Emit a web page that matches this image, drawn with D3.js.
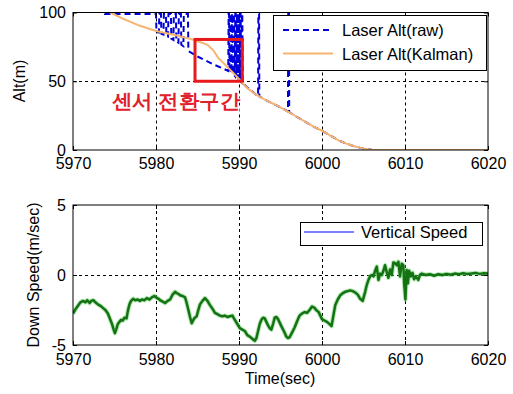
<!DOCTYPE html>
<html><head><meta charset="utf-8">
<script src="https://cdn.jsdelivr.net/npm/d3@7"></script>
<style>
html,body{margin:0;padding:0;background:#fff;}
svg{display:block;}
text{font-family:"Liberation Sans",Arial,sans-serif;}
</style></head>
<body>
<svg id="c" width="513" height="394"></svg>
<script>
// ---------- data ----------
const xTicks = [5970, 5980, 5990, 6000, 6010, 6020];
const altTicks = [0, 50, 100];
const spdTicks = [-5, 0, 5];

// Laser altitude, raw (saturated readings sit at 99, invisible ones at 120)
const rawT = [5970, 5973.8, 5973.85, 5980.0,
  5980.05, 5980.35, 5980.4, 5980.6, 5980.65, 5980.9, 5980.95, 5981.2, 5981.25, 5981.45,
  5981.5, 5981.8, 5981.85, 5982.1, 5982.15, 5982.4, 5982.45, 5982.7, 5982.75, 5983.0,
  5983.05, 5983.3, 5983.35, 5983.85, 5983.9, 5985, 5986, 5987, 5988, 5988.7,
  5988.75, 5988.8, 5988.85, 5988.9, 5988.95, 5989.0, 5989.05, 5989.1, 5989.15, 5989.2,
  5989.25, 5989.3, 5989.35, 5989.4, 5989.45, 5989.5, 5989.55, 5989.6, 5989.65, 5989.7,
  5989.75, 5989.8, 5989.85, 5989.9, 5989.95, 5990.0, 5990.05, 5990.1, 5990.15, 5990.2,
  5990.25, 5990.3, 5990.35, 5990.4, 5990.45, 5991, 5992, 5992.3, 5992.33, 5992.42, 5992.45,
  5993, 5994, 5995, 5995.9, 5995.93, 5996.02, 5996.05, 5997, 5998, 5999, 6000, 6001,
  6002, 6003, 6004, 6005, 6006, 6006.5, 6020];
const rawV = [120, 120, 99, 99,
  86, 85.5, 99, 99, 84.5, 84, 99, 99, 83, 82.5,
  99, 99, 81, 80, 99, 99, 79, 78, 99, 99,
  76.5, 75.5, 99, 99, 72, 68, 65, 62, 59.5, 57.5,
  99, 99, 57, 57, 99, 99, 56, 56, 99, 99,
  55.5, 55, 99, 99, 54.5, 54, 99, 99, 53.5, 53,
  99, 99, 52.5, 52, 99, 99, 51.5, 51, 99, 99,
  50, 49.5, 99, 99, 48.5, 45.5, 40.5, 39.5, 99, 99, 39,
  37, 34, 31, 28, 99, 99, 27.5, 24, 20.5, 17, 14, 10.5,
  7, 4.5, 2.5, 1, 0.2, 0, 0];

// Laser altitude, Kalman filtered
const kalT = [5970, 5972, 5974.5, 5976, 5978, 5980, 5982, 5984, 5985.3, 5986.2, 5986.9,
  5987.5, 5988.5, 5989.8, 5990.5, 5991.3, 5992, 5993, 5994, 5995, 5996, 5997, 5998,
  5999, 6000, 6001, 6002, 6003, 6004, 6005, 6006, 6006.5, 6020];
const kalV = [112, 106, 100, 95.5, 90.5, 86.5, 84, 81, 78.5, 76.5, 72.5,
  67, 61, 53, 48, 43.5, 40.5, 37, 34, 31, 27.5, 24, 20.5,
  17, 14, 10.5, 7, 4.5, 2.5, 1, 0.2, 0, 0];

// Vertical (down) speed
const spdT = [5970.0, 5970.3, 5970.6, 5970.9, 5971.2, 5971.5, 5971.7, 5972.0, 5972.2, 5972.45,
  5972.7, 5973.0, 5973.3, 5973.6, 5973.9, 5974.2, 5974.5, 5974.7, 5974.9, 5975.05,
  5975.2, 5975.4, 5975.6, 5975.8, 5976.0, 5976.2, 5976.45, 5976.6, 5976.8, 5977.0,
  5977.25, 5977.5, 5977.8, 5978.05, 5978.3, 5978.6, 5978.9, 5979.2, 5979.5, 5979.8,
  5980.0, 5980.3, 5980.5, 5980.8, 5981.1, 5981.4, 5981.7, 5982.0, 5982.3, 5982.5,
  5982.7, 5982.9, 5983.2, 5983.5, 5983.7, 5983.9, 5984.1, 5984.3, 5984.6, 5984.9,
  5985.1, 5985.3, 5985.6, 5985.9, 5986.2, 5986.5, 5986.8, 5987.1, 5987.4, 5987.7,
  5988.0, 5988.3, 5988.6, 5988.9, 5989.2, 5989.5, 5989.8, 5990.1, 5990.4, 5990.7,
  5991.0, 5991.3, 5991.6, 5991.9, 5992.1, 5992.3, 5992.5, 5992.7, 5992.9, 5993.1,
  5993.3, 5993.5, 5993.7, 5993.9, 5994.1, 5994.3, 5994.5, 5994.7, 5994.9, 5995.1,
  5995.4, 5995.7, 5995.9, 5996.1, 5996.4, 5996.7, 5997.0, 5997.3, 5997.6, 5997.9,
  5998.2, 5998.5, 5998.8, 5999.1, 5999.3, 5999.6, 5999.8, 6000.0, 6000.3, 6000.6,
  6000.9, 6001.15, 6001.4, 6001.6, 6001.9, 6002.2, 6002.5, 6002.8, 6003.1, 6003.4,
  6003.7, 6004.0, 6004.3, 6004.6, 6004.9, 6005.2, 6005.4, 6005.6, 6005.8, 6006.0,
  6006.2, 6006.4, 6006.6, 6006.8, 6007.0, 6007.2, 6007.4, 6007.6, 6007.8, 6008.0,
  6008.2, 6008.4, 6008.6, 6008.8, 6009.0, 6009.2, 6009.4, 6009.6, 6009.8, 6009.9,
  6010.05, 6010.2, 6010.35, 6010.5, 6010.7, 6010.9, 6011.1, 6011.3, 6011.6, 6011.8,
  6012.0, 6012.5, 6013.0, 6013.5, 6014.0, 6014.5, 6015.0, 6015.5, 6016.0, 6016.5,
  6017.0, 6017.5, 6018.0, 6018.5, 6019.0, 6019.5, 6020.0];
const spdV = [-2.75, -2.45, -2.2, -1.95, -1.85, -1.95, -1.8, -2.0, -1.85, -1.8,
  -1.95, -2.1, -2.2, -2.35, -2.5, -2.75, -3.2, -3.5, -3.9, -4.15,
  -3.9, -3.5, -3.35, -3.2, -3.25, -3.05, -3.1, -2.6, -2.1, -1.85,
  -1.7, -1.8, -1.75, -1.85, -1.75, -1.8, -1.65, -1.75, -1.6, -1.5,
  -1.6, -1.7, -1.8, -1.9, -2.0, -1.85, -1.75, -1.4, -1.2, -1.3,
  -1.35, -1.45, -1.5, -1.6, -2.0, -2.5, -3.0, -3.45, -3.1, -2.95,
  -2.5, -2.1, -1.85, -1.65, -1.85, -2.15, -2.4, -2.7, -2.8, -2.9,
  -2.95, -2.9, -3.0, -2.95, -2.9, -3.2, -3.5, -3.8, -3.9, -4.0,
  -4.3, -4.4, -4.55, -4.7, -4.5, -4.0, -3.5, -3.2, -3.05, -3.1,
  -3.35, -3.6, -3.8, -3.9, -3.5, -3.05, -3.0, -3.15, -3.4, -3.65,
  -4.0, -4.4, -4.5, -4.45, -4.1, -3.75, -3.3, -2.9, -2.75, -2.65,
  -2.7, -2.5, -2.25, -2.35, -2.5, -2.65, -2.9, -3.15, -3.25, -3.35,
  -3.5, -3.65, -2.8, -2.15, -1.75, -1.45, -1.3, -1.2, -1.15, -1.1,
  -1.15, -1.25, -1.4, -1.7, -1.85, -1.2, -0.7, -0.35, -0.1, 0.0,
  -0.1, 0.3, 0.6, -0.35, 0.1, 0.0, 0.3, 0.7, 0.2, -0.2,
  0.4, 0.0, 0.9, 0.85, 0.7, 0.95, -0.1, 0.8, 0.7, -0.6,
  -1.75, 0.35, -0.6, 0.3, -0.1, 0.15, -0.3, -0.1, -0.35, 0.0,
  0.1, 0.0, 0.05, -0.05, 0.05, 0.0, 0.08, 0.02, 0.1, 0.05,
  0.12, 0.08, 0.1, 0.15, 0.08, 0.12, 0.1];

// annotation region (data coordinates) and labels
const boxT = [5984.7, 5990.4];
const boxV = [50, 80.4];
const noteText = "센서 전환구간";
const noteAt = [5982.4, 36];
const topLegend = ["Laser Alt(raw)", "Laser Alt(Kalman)"];
const botLegend = ["Vertical Speed"];

// ---------- drawing ----------
const svg = d3.select("#c");
svg.append("rect").attr("width", 513).attr("height", 394).attr("fill", "#fff");

const x = d3.scaleLinear().domain([5970, 6020]).range([73, 488]);
const yA = d3.scaleLinear().domain([0, 100]).range([150, 12.5]);
const yS = d3.scaleLinear().domain([-5, 5]).range([345, 205]);

const FONT = 16;
function panel(id, y, yTicks, xPad) {
  const g = svg.append("g");
  const [y0, y1] = y.range();
  const defs = svg.append("defs");
  defs.append("clipPath").attr("id", id).append("rect")
    .attr("x", 73).attr("y", y1).attr("width", 415).attr("height", y0 - y1);
  const grid = g.append("g").attr("stroke", "#000").attr("stroke-width", 1)
    .attr("stroke-dasharray", "3,3");
  xTicks.slice(1, -1).forEach(t => grid.append("line")
    .attr("x1", Math.round(x(t)) + 0.5).attr("x2", Math.round(x(t)) + 0.5)
    .attr("y1", y1).attr("y2", y0));
  yTicks.slice(1, -1).forEach(v => grid.append("line")
    .attr("x1", 73).attr("x2", 488)
    .attr("y1", Math.round(y(v)) + 0.5).attr("y2", Math.round(y(v)) + 0.5));
  const data = g.append("g").attr("clip-path", `url(#${id})`);
  const axes = g.append("g");
  axes.append("g").attr("transform", `translate(0,${y0})`)
    .call(d3.axisBottom(x).tickValues(xTicks).tickSize(-4).tickPadding(xPad).tickFormat(d3.format("d")));
  axes.append("g").attr("transform", `translate(73,0)`)
    .call(d3.axisLeft(y).tickValues(yTicks).tickSize(-4).tickPadding(7).tickFormat(d => d < 0 ? "-" + Math.abs(d) : d));
  axes.append("g").attr("transform", `translate(0,${y1})`)
    .call(d3.axisTop(x).tickValues(xTicks).tickSize(-4).tickFormat(""));
  axes.append("g").attr("transform", `translate(488,0)`)
    .call(d3.axisRight(y).tickValues(yTicks).tickSize(-4).tickFormat(""));
  axes.selectAll(".domain").remove();
  axes.selectAll(".tick line").attr("stroke", "#000");
  axes.selectAll(".tick text").attr("font-size", FONT).attr("fill", "#000")
    .attr("font-family", '"Liberation Sans",Arial,sans-serif');
  axes.append("rect").attr("x", 73).attr("y", y1).attr("width", 415).attr("height", y0 - y1)
    .attr("fill", "none").attr("stroke", "#000").attr("stroke-width", 1);
  return data;
}

// top panel
const dA = panel("clipA", yA, altTicks, 8);
const lineA = d3.line().x(d => x(d[0])).y(d => yA(d[1]));
dA.append("path").attr("d", lineA(rawT.map((t, i) => [t, rawV[i]])))
  .attr("fill", "none").attr("stroke", "#0000dc").attr("stroke-width", 2)
  .attr("stroke-dasharray", "6,4");
dA.append("path").attr("d", lineA(kalT.map((t, i) => [t, kalV[i]])))
  .attr("fill", "none").attr("stroke", "#f6b46f").attr("stroke-width", 2);

// bottom panel
const dS = panel("clipS", yS, spdTicks, 9);
const lineS = d3.line().x(d => x(d[0])).y(d => yS(d[1]));
const spd = spdT.map((t, i) => [t, spdV[i]]);
dS.append("path").attr("d", lineS(spd)).attr("fill", "none")
  .attr("stroke", "#6ccf6c").attr("stroke-width", 4.5).attr("stroke-opacity", 0.5)
  .attr("stroke-linejoin", "round");
dS.append("path").attr("d", lineS(spd)).attr("fill", "none")
  .attr("stroke", "#137313").attr("stroke-width", 2.5).attr("stroke-linejoin", "round");

// axis labels
svg.append("text").attr("transform", "translate(25,81) rotate(-90)")
  .attr("text-anchor", "middle").attr("font-size", FONT).text("Alt(m)");
svg.append("text").attr("transform", "translate(39,275) rotate(-90)")
  .attr("text-anchor", "middle").attr("font-size", FONT).text("Down Speed(m/sec)");
svg.append("text").attr("x", 280).attr("y", 384)
  .attr("text-anchor", "middle").attr("font-size", FONT).text("Time(sec)");

// top legend
const lg = svg.append("g");
lg.append("rect").attr("x", 273.5).attr("y", 15.5).attr("width", 213).attr("height", 55)
  .attr("fill", "#fff").attr("stroke", "#000");
lg.append("line").attr("x1", 283).attr("x2", 333).attr("y1", 30).attr("y2", 30)
  .attr("stroke", "#0000dc").attr("stroke-width", 2).attr("stroke-dasharray", "6,4");
lg.append("line").attr("x1", 283).attr("x2", 333).attr("y1", 53.5).attr("y2", 53.5)
  .attr("stroke", "#f6b46f").attr("stroke-width", 2);
lg.selectAll("text.l").data(topLegend).join("text")
  .attr("x", 342).attr("y", (d, i) => 36 + i * 23.5).attr("font-size", 16.5).text(d => d);

// bottom legend
const lg2 = svg.append("g");
lg2.append("rect").attr("x", 300.5).attr("y", 222.5).attr("width", 182).attr("height", 23)
  .attr("fill", "#fff").attr("stroke", "#000");
lg2.append("line").attr("x1", 304).attr("x2", 354).attr("y1", 232).attr("y2", 232)
  .attr("stroke", "#0000ff").attr("stroke-width", 1);
lg2.selectAll("text.l").data(botLegend).join("text")
  .attr("x", 361).attr("y", 238).attr("font-size", 16.5).text(d => d);

// annotation
svg.append("rect")
  .attr("x", x(boxT[0])).attr("y", yA(boxV[1]))
  .attr("width", x(boxT[1]) - x(boxT[0])).attr("height", yA(boxV[0]) - yA(boxV[1]))
  .attr("fill", "none").attr("stroke", "#e8191c").attr("stroke-width", 3);
svg.append("text").attr("x", x(noteAt[0])).attr("y", yA(noteAt[1]) + 7)
  .attr("text-anchor", "middle").attr("font-size", 20).attr("font-weight", "bold")
  .attr("font-family", '"Noto Sans CJK KR",sans-serif')
  .attr("textLength", 128).attr("lengthAdjust", "spacingAndGlyphs")
  .attr("fill", "#e0202a").attr("stroke", "#fff").attr("stroke-width", 3)
  .attr("stroke-opacity", 0.8).attr("paint-order", "stroke")
  .text(noteText);
</script>
</body></html>
